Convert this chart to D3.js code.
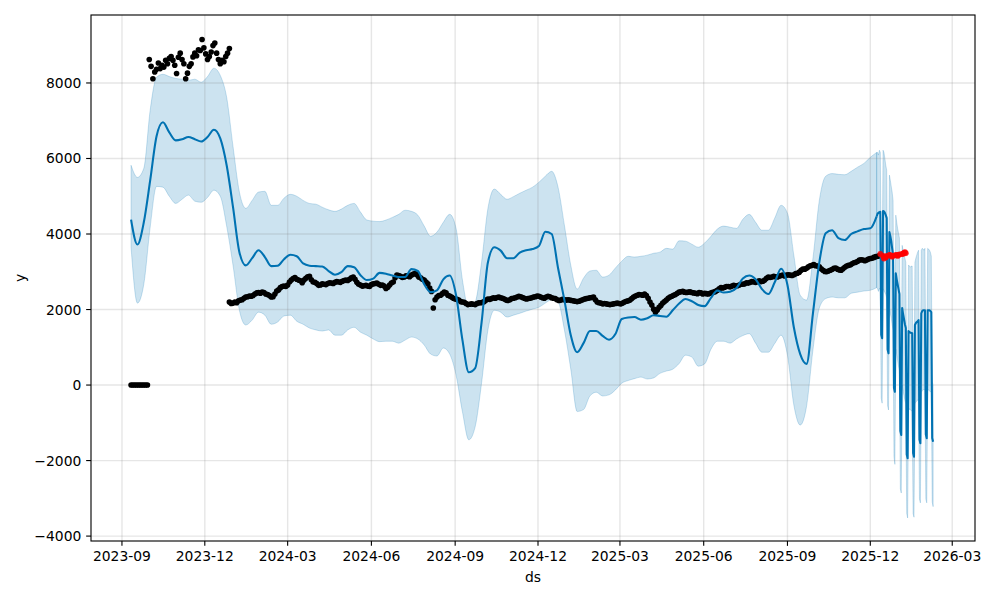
<!DOCTYPE html>
<html><head><meta charset="utf-8">
<script src="https://cdn.jsdelivr.net/npm/d3@7"></script>
<style>
body{margin:0;background:#fff}
svg{display:block}
text{font-family:"DejaVu Sans",sans-serif;font-size:13.89px;fill:#000}
</style>
</head><body>
<svg id="chart" width="1000" height="600"></svg>
<script>
// ---------------- DATA ----------------
// observed points (history), three runs with a fixed day step
const zeroStart = "2023-09-11", zeroStep = 2;
const zeroVals = [0,0,0,0,0,0,0,0,0,0];

const highStart = "2023-10-01", highStep = 2;
const highVals = [8620,8440,8110,8290,8360,8530,8380,8470,8420,8600,
  8510,8650,8700,8600,8470,8250,8680,8790,8620,8510,
  8110,8260,8440,8510,8690,8790,8720,8880,8860,9150,
  8930,8770,8620,8700,8820,8990,9060,8790,8620,8510,
  8600,8560,8700,8790,8910];

const mainStart = "2023-12-28", mainStep = 2;
const mainVals = [
  2200,2160,2170,2200,2180,2230,2250,2260,2300,2330,2340,2360,2350,2370,2410,2440,2450,2430,2460,2450,
  2410,2400,2370,2330,2340,2410,2490,2520,2580,2610,2620,2610,2650,2730,2780,2820,2850,2800,2780,2760,
  2710,2780,2830,2870,2880,2790,2730,2720,2690,2640,2650,2680,2670,2660,2690,2710,2700,2690,2720,2740,
  2730,2720,2750,2770,2780,2770,2800,2840,2860,2800,2720,2670,2650,2620,2630,2640,2620,2610,2660,2680,
  2690,2700,2670,2640,2650,2620,2560,2590,2650,2700,2730,2840,2910,2900,2880,2850,2860,2890,2880,2870,
  2910,2940,2950,2920,2860,2840,2800,2780,2730,2680,2570,2480,2040,2260,2330,2370,2380,2420,2460,2440,
  2380,2360,2330,2300,2280,2270,2250,2210,2200,2190,2160,2130,2140,2150,2140,2130,2160,2180,2180,2190,
  2210,2250,2280,2270,2290,2310,2300,2320,2330,2310,2300,2280,2250,2240,2260,2290,2300,2310,2330,2350,
  2340,2320,2300,2280,2290,2300,2310,2330,2340,2360,2350,2330,2310,2300,2330,2350,2340,2310,2300,2290,
  2260,2240,2250,2270,2260,2250,2260,2250,2240,2230,2220,2210,2220,2240,2260,2280,2290,2300,2310,2320,
  2330,2260,2200,2180,2170,2150,2160,2150,2140,2130,2140,2150,2160,2170,2160,2150,2170,2200,2220,2230,
  2250,2290,2330,2360,2380,2400,2390,2380,2410,2370,2300,2200,2120,2010,1930,1990,2060,2110,2170,2210,
  2250,2300,2330,2350,2380,2400,2430,2460,2470,2480,2460,2450,2460,2470,2450,2440,2430,2420,2450,2440,
  2410,2430,2420,2410,2430,2450,2460,2480,2510,2550,2580,2570,2590,2610,2610,2600,2620,2640,2630,2630,
  2650,2670,2670,2680,2710,2700,2720,2740,2730,2720,2740,2760,2740,2750,2780,2830,2860,2850,2860,2880,
  2870,2860,2880,2900,2910,2890,2910,2920,2910,2900,2920,2950,2960,2990,3040,3070,3070,3090,3130,3160,
  3170,3190,3160,3150,3130,3080,3040,3010,3000,3020,3040,3060,3090,3100,3070,3050,3040,3080,3120,3150,
  3170,3180,3210,3240,3250,3270,3310,3320,3310,3290,3310,3340,3350,3360,3380,3400,3410,3420,3440];

// actual values after the training window (red)
const redDates = ["2025-12-12","2025-12-15","2025-12-16","2025-12-17","2025-12-18","2025-12-19",
  "2025-12-22","2025-12-23","2025-12-24","2025-12-25","2025-12-26","2025-12-29","2025-12-30",
  "2025-12-31","2026-01-01","2026-01-02","2026-01-05","2026-01-06","2026-01-07","2026-01-08","2026-01-09"];
const redVals = [3470,3420,3350,3390,3380,3420,3450,3440,3420,3400,3430,3450,3440,3420,3450,3460,3470,3480,3500,3520,3490];

// model fit over history (weekly samples)
const modelStart = "2023-09-11", modelStep = 7;
const histYhat = [4380,3720,4310,5420,6590,6960,6690,6480,6510,6570,
  6510,6450,6570,6760,6530,5820,4710,3520,3170,3360,
  3570,3390,3150,3160,3330,3450,3410,3220,3160,3150,
  3140,3020,2920,2990,3150,3120,2910,2780,2820,2970,
  2950,2900,2860,2860,3070,3020,2670,2460,2510,2800,
  2900,2380,1190,340,450,1650,3250,3650,3560,3360,
  3360,3510,3570,3600,3680,4060,4000,3100,2250,1320,
  870,1110,1430,1430,1300,1200,1350,1750,1790,1800,
  1730,1770,1850,1830,1810,1980,2160,2280,2220,2120,
  2090,2310,2500,2450,2470,2570,2820,2900,2800,2540,
  2410,2720,3080,2650,1530,820,560,1900,3250,4020,
  4100,3890,3840,4000,4070,4130,4150,4470];
const histUpper = [5820,5500,5740,7280,8150,8230,8170,8120,8100,8070,
  8100,8020,8170,8390,8200,7620,6320,5110,4680,4890,
  5110,5130,4760,4760,4950,5050,5000,4890,4810,4790,
  4710,4640,4600,4660,4760,4810,4580,4370,4340,4330,
  4370,4440,4520,4630,4600,4500,4210,3940,4050,4310,
  4520,4150,2780,2040,2200,3250,4680,5190,5050,4920,
  4990,5080,5160,5240,5370,5530,5660,5240,4230,3170,
  2540,2830,3020,3040,2860,2910,3100,3280,3410,3390,
  3410,3440,3490,3520,3620,3600,3820,3810,3730,3650,
  3760,3940,4130,4210,4180,4150,4390,4520,4310,4100,
  4100,4420,4760,4550,3440,2380,2250,3360,4890,5530,
  5600,5580,5570,5660,5770,5870,6030,6160];
const histLower = [3650,2170,2670,4180,5260,5240,5000,4810,4920,5030,
  4870,4840,4970,5160,5000,4210,3170,1980,1590,1720,
  1930,1850,1610,1670,1830,1850,1690,1610,1510,1460,
  1430,1460,1320,1320,1460,1530,1400,1320,1220,1150,
  1160,1160,1110,1190,1270,1220,1060,820,770,980,
  820,260,-710,-1450,-1100,50,1460,1980,1930,1800,
  1850,1900,1960,2010,2060,2170,2260,2200,1460,420,
  -700,-650,-290,-190,-290,-260,-130,50,120,170,
  210,160,190,310,370,420,570,790,740,500,
  560,950,1160,1160,1110,1220,1310,1360,1110,870,
  870,1100,1320,790,-530,-1060,-560,930,2040,2290,
  2330,2310,2310,2430,2460,2490,2510,2580];

// daily forecast (from 2025-12-09)
const fcStart = "2025-12-09";
const fcYhat = [4540,4560,4580,4590,1330,1240,4610,4600,4560,4500,
  4420,940,840,4050,3940,3810,3620,3440,-80,-180,
  2960,2800,2670,2540,2410,-1220,-1320,2040,1880,1750,
  1610,1510,-1840,-1940,1430,1400,1390,1380,1370,-1800,
  -1900,1590,1640,1670,1690,1720,-1440,-1540,1900,1960,
  1980,1980,1980,-1310,-1410,1980,1980,1980,1960,1930,
  -1400,-1500];
const fcUpper = [6160,6090,6220,6160,2900,2800,6220,6160,6000,5820,
  5690,2500,2400,5560,5420,5260,5110,4890,1500,1400,
  4500,4310,4150,4020,3890,300,200,3700,3570,3440,
  3360,3250,-300,-400,3180,3150,3120,3150,3150,-250,
  -350,3250,3360,3440,3520,3570,100,0,3570,3620,
  3600,3570,3620,200,100,3620,3600,3570,3520,3410,
  100,0];
const fcLower = [2550,2480,2560,2520,-350,-480,2550,2500,2450,2400,
  2300,-550,-660,2000,1900,1780,1600,1450,-1900,-2100,
  950,800,650,500,380,-2750,-2860,0,-150,-280,
  -400,-500,-3400,-3520,-600,-650,-650,-680,-700,-3400,
  -3500,-500,-450,-420,-400,-380,-3020,-3120,-200,-150,
  -120,-120,-120,-3020,-3120,-130,-130,-150,-180,-200,
  -3100,-3220];

const yTicks = [-4000,-2000,0,2000,4000,6000,8000];
const xTickLabels = ["2023-09","2023-12","2024-03","2024-06","2024-09","2024-12",
  "2025-03","2025-06","2025-09","2025-12","2026-03"];
const xDomain = ["2023-07-29","2026-03-26"];
const yDomain = [-4130, 9800];

// ---------------- DRAW ----------------
const parse = d3.utcParse("%Y-%m-%d");
const off = (s, n) => d3.utcDay.offset(parse(s), n);
const L = 91, R = 975, T = 15, B = 541;

const x = d3.scaleUtc().domain(xDomain.map(parse)).range([L, R]);
const y = d3.scaleLinear().domain(yDomain).range([B, T]);

const svg = d3.select("#chart");
const blue = "#0072B2";

const run = (start, step, vals) => vals.map((v, i) => ({d: off(start, i * step), v}));
const observed = [].concat(run(zeroStart, zeroStep, zeroVals), run(highStart, highStep, highVals), run(mainStart, mainStep, mainVals));
const red = redDates.map((s, i) => ({d: parse(s), v: redVals[i]}));

const hist = histYhat.map((v, i) => ({d: off(modelStart, i * modelStep), yhat: v, lo: histLower[i], hi: histUpper[i]}));
const fc = [hist[hist.length - 1]].concat(fcYhat.map((v, i) => ({d: off(fcStart, i), yhat: v, lo: fcLower[i], hi: fcUpper[i]})));

const areaH = d3.area().curve(d3.curveMonotoneX).x(d => x(d.d)).y0(d => y(d.lo)).y1(d => y(d.hi));
const areaF = d3.area().x(d => x(d.d)).y0(d => y(d.lo)).y1(d => y(d.hi));
const lineH = d3.line().curve(d3.curveMonotoneX).x(d => x(d.d)).y(d => y(d.yhat));
const lineF = d3.line().x(d => x(d.d)).y(d => y(d.yhat));

// uncertainty band
[[hist, areaH], [fc, areaF]].forEach(([data, gen]) => {
  svg.append("path").datum(data).attr("d", gen)
    .attr("fill", blue).attr("fill-opacity", 0.2)
    .attr("stroke", blue).attr("stroke-opacity", 0.2).attr("stroke-width", 1);
});

// grid
const grid = svg.append("g").attr("stroke", "gray").attr("stroke-opacity", 0.2).attr("stroke-width", 1.39);
xTickLabels.forEach(t => {
  const px = x(parse(t + "-01"));
  grid.append("line").attr("x1", px).attr("x2", px).attr("y1", T).attr("y2", B);
});
yTicks.forEach(t => {
  grid.append("line").attr("x1", L).attr("x2", R).attr("y1", y(t)).attr("y2", y(t));
});

// observed points
svg.append("g").selectAll("circle").data(observed).join("circle")
  .attr("cx", d => x(d.d)).attr("cy", d => y(d.v)).attr("r", 2.8).attr("fill", "#000");

// yhat line
[[hist, lineH], [fc, lineF]].forEach(([data, gen]) => {
  svg.append("path").datum(data).attr("d", gen)
    .attr("fill", "none").attr("stroke", blue).attr("stroke-width", 2.08)
    .attr("stroke-linejoin", "round");
});

// red actuals
svg.append("g").selectAll("circle").data(red).join("circle")
  .attr("cx", d => x(d.d)).attr("cy", d => y(d.v)).attr("r", 2.9).attr("fill", "#ff0000").attr("fill-opacity", 0.85);

// frame
svg.append("rect").attr("x", L).attr("y", T).attr("width", R - L).attr("height", B - T)
  .attr("fill", "none").attr("stroke", "#000").attr("stroke-width", 1.11);

// x ticks
const xt = svg.append("g");
xTickLabels.forEach(t => {
  const px = x(parse(t + "-01"));
  xt.append("line").attr("x1", px).attr("x2", px).attr("y1", B).attr("y2", B + 4.86).attr("stroke", "#000").attr("stroke-width", 1.11);
  xt.append("text").attr("x", px).attr("y", B + 20).attr("text-anchor", "middle").text(t);
});
// y ticks
const yt = svg.append("g");
const fmt = v => (v < 0 ? "\u2212" : "") + Math.abs(v);
yTicks.forEach(t => {
  const py = y(t);
  yt.append("line").attr("x1", L - 4.86).attr("x2", L).attr("y1", py).attr("y2", py).attr("stroke", "#000").attr("stroke-width", 1.11);
  yt.append("text").attr("x", L - 9.7).attr("y", py).attr("dy", "0.36em").attr("text-anchor", "end").text(fmt(t));
});

// axis labels
svg.append("text").attr("x", (L + R) / 2).attr("y", 582).attr("text-anchor", "middle").text("ds");
svg.append("text").attr("transform", `translate(25,${(T + B) / 2}) rotate(-90)`).attr("text-anchor", "middle").text("y");
</script>
</body></html>
